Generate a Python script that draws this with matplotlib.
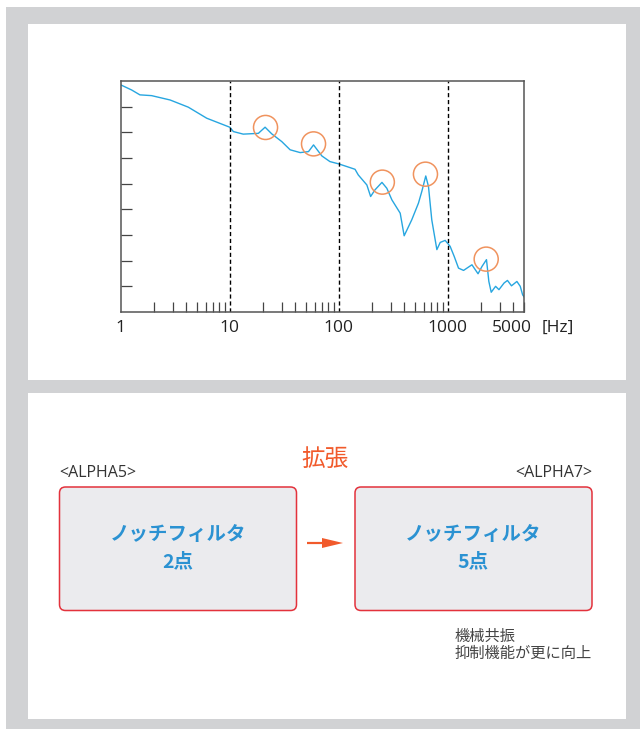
import matplotlib.pyplot as plt
import numpy as np
from matplotlib.patches import Rectangle, FancyBboxPatch, FancyArrow

# 周波数特性（目盛りの単位で読み取り）
freq = [1, 1.26, 1.5, 1.92, 2.84, 4.17, 6.15, 10, 10.8, 13.3, 18.3, 21.1, 24.3, 30, 35.8,
        44.3, 52.8, 58.7, 70, 83, 100, 118, 141, 151, 181, 196, 215, 249, 276, 307, 366,
        398, 467, 538, 578, 628, 665, 713, 794, 852, 946, 1050, 1144, 1254, 1395, 1665,
        1894, 2063, 2264, 2380, 2502, 2744, 2946, 3283, 3526, 3839, 4303, 4619, 4857, 5100]
level = [8.85, 8.65, 8.46, 8.43, 8.26, 7.98, 7.55, 7.20, 7.03, 6.93, 6.96, 7.20, 6.94, 6.64, 6.32,
         6.21, 6.25, 6.51, 6.08, 5.86, 5.77, 5.67, 5.56, 5.34, 4.95, 4.50, 4.76, 5.05, 4.82, 4.37, 3.85,
         2.97, 3.59, 4.24, 4.70, 5.30, 4.89, 3.59, 2.43, 2.71, 2.79, 2.56, 2.17, 1.71, 1.62, 1.84,
         1.49, 1.78, 2.04, 1.19, 0.77, 1.00, 0.87, 1.13, 1.23, 1.02, 1.19, 1.00, 0.67, 0.54]

# 共振ピーク（丸印）
peak_freq = [21.3, 58.7, 251, 624, 2250]
peak_level = [7.19, 6.55, 5.06, 5.37, 2.06]

tick_pos = [1, 10, 100, 1000]
tick_labels = ['1', '10', '100', '1000']
grid_pos = [10, 100, 1000]

W, H = 640, 729
blue = '#27a6e0'
orange = '#f0935e'
red_edge = '#e3323c'
text_blue = '#2b92d2'

plt.rcParams['font.family'] = ['Open Sans', 'Noto Sans CJK JP', 'DejaVu Sans']
fig = plt.figure(figsize=(W / 100, H / 100), dpi=100)
fig.patch.set_facecolor('white')

# 背景（ピクセル座標のオーバーレイ）
bg = fig.add_axes([0, 0, 1, 1])
bg.set_xlim(0, W)
bg.set_ylim(H, 0)
bg.axis('off')
bg.add_patch(Rectangle((6, 7), W - 6, H - 7, facecolor='#d1d2d4', edgecolor='none'))
bg.add_patch(Rectangle((28, 24), 598, 356, facecolor='white', edgecolor='none'))
bg.add_patch(Rectangle((28, 393), 598, 326, facecolor='white', edgecolor='none'))

# グラフ
ax = fig.add_axes([120.7 / W, 1 - 312 / H, (524 - 120.7) / W, (312 - 81) / H])
ax.plot(freq, level, color=blue, linewidth=1.0)
ax.scatter(peak_freq, peak_level, s=300, facecolors='none', edgecolors=orange, linewidths=1.1, zorder=3)
for g in grid_pos:
    ax.axvline(g, color='black', linestyle=(0, (3, 2)), linewidth=1.0)

ax.set_xscale('log')
ax.set_xlim(1, 5000)
ax.set_ylim(0, 9)
ax.set_yticks(np.arange(1, 9))
ax.set_yticklabels([])
ax.set_xticks(tick_pos)
ax.set_xticklabels(tick_labels)
ax.xaxis.set_minor_locator(plt.matplotlib.ticker.LogLocator(base=10, subs=np.arange(2, 10)))
ax.xaxis.set_minor_formatter(plt.NullFormatter())
ax.tick_params(axis='x', which='major', direction='in', length=0, labelsize=12.5, pad=6, colors='#222222')
ax.tick_params(axis='x', which='minor', direction='in', length=7.5, width=0.9, color='#444444')
ax.tick_params(axis='y', which='major', direction='in', length=8, width=0.9, color='#444444')
for s in ax.spines.values():
    s.set_color('#555555')
    s.set_linewidth(1.1)
ax.annotate('5000', xy=(5000, 0), xycoords=('data', 'axes fraction'), xytext=(-9, -6),
            textcoords='offset points', ha='center', va='top', fontsize=12.5, color='#222222')
ax.annotate('[Hz]', xy=(5000, 0), xycoords=('data', 'axes fraction'), xytext=(13, -6),
            textcoords='offset points', ha='left', va='top', fontsize=12.5, color='#222222')

# 下段：比較図
for x0, lab, ha, lx, num in [(59.5, '<ALPHA5>', 'left', 59.5, '2点'), (355, '<ALPHA7>', 'right', 592, '5点')]:
    bg.add_patch(FancyBboxPatch((x0, 487), 237, 123.5, boxstyle='round,pad=0,rounding_size=6',
                                facecolor='#ebebee', edgecolor=red_edge, linewidth=1.1))
    bg.text(lx, 473, lab, ha=ha, va='center', fontsize=11.5, color='#333333')
    cx = x0 + 118.5
    bg.text(cx, 534, 'ノッチフィルタ', ha='center', va='center', fontsize=14, fontweight='bold',
            color=text_blue, family=['Noto Sans CJK JP'])
    bg.text(cx, 562, num, ha='center', va='center', fontsize=14, fontweight='bold',
            color=text_blue, family=['Noto Sans CJK JP'])

bg.text(325, 459, '拡張', ha='center', va='center', fontsize=17, color='#f15a2b',
        family=['Noto Sans CJK JP'])
bg.add_patch(FancyArrow(307, 543, 36, 0, width=2.2, head_width=10, head_length=21,
                        length_includes_head=True, color='#f15a2b', linewidth=0))
bg.text(455, 645, '機械共振\n抑制機能が更に向上', ha='left', va='center', fontsize=11,
        color='#444444', linespacing=1.05, family=['Noto Sans CJK JP'])

plt.savefig('out.png', dpi=100)
